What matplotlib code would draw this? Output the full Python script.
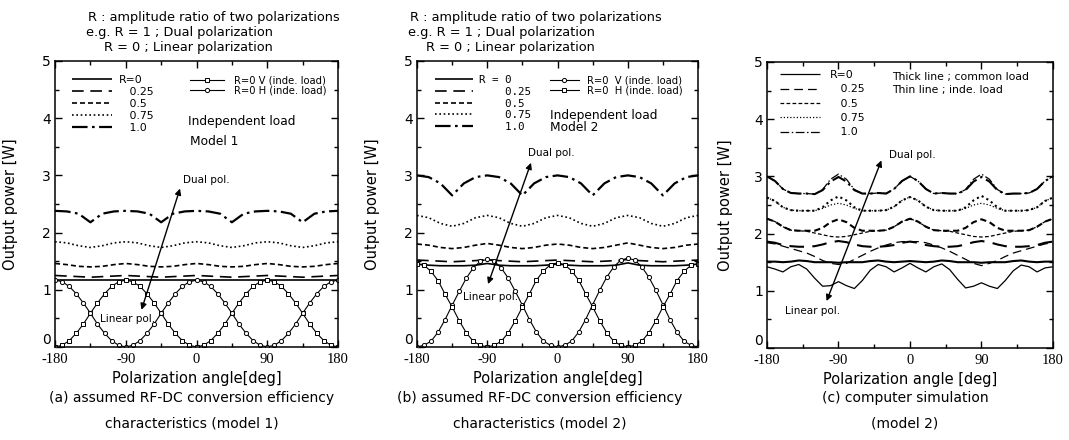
import matplotlib
matplotlib.use("Agg")
import matplotlib.pyplot as plt
import numpy as np
from matplotlib.ticker import MultipleLocator

plt.rcParams['font.family'] = ['DejaVu Sans']
plt.rcParams['axes.unicode_minus'] = False

# polarization angle grids [deg]
ANG_15 = list(range(-180, 181, 15))
ANG_9 = list(range(-180, 181, 9))
ANG_10 = list(range(-180, 181, 10))

R_LABELS = ["R=0", "   0.25", "   0.5", "   0.75", "   1.0"]
R_LABELS_B = ["R = 0", "    0.25", "    0.5", "    0.75", "    1.0"]

# (a) model 1, independent load
A_R0 = [1.17, 1.17, 1.17, 1.17, 1.17, 1.17, 1.17, 1.17, 1.17, 1.17, 1.17, 1.17, 1.17,
        1.17, 1.17, 1.17, 1.17, 1.17, 1.17, 1.17, 1.17, 1.17, 1.17, 1.17, 1.17]
A_R025 = [1.25, 1.24, 1.23, 1.22, 1.23, 1.24, 1.25, 1.24, 1.23, 1.22, 1.23, 1.24, 1.25,
          1.24, 1.23, 1.22, 1.23, 1.24, 1.25, 1.24, 1.23, 1.22, 1.23, 1.24, 1.25]
A_R05 = [1.46, 1.44, 1.41, 1.40, 1.41, 1.44, 1.46, 1.44, 1.41, 1.40, 1.41, 1.44, 1.46,
         1.44, 1.41, 1.40, 1.41, 1.44, 1.46, 1.44, 1.41, 1.40, 1.41, 1.44, 1.46]
A_R075 = [1.84, 1.82, 1.77, 1.74, 1.77, 1.82, 1.84, 1.82, 1.77, 1.74, 1.77, 1.82, 1.84,
          1.82, 1.77, 1.74, 1.77, 1.82, 1.84, 1.82, 1.77, 1.74, 1.77, 1.82, 1.84]
A_R1 = [2.38, 2.37, 2.33, 2.18, 2.33, 2.37, 2.38, 2.37, 2.33, 2.18, 2.33, 2.37, 2.38,
        2.37, 2.33, 2.18, 2.33, 2.37, 2.38, 2.37, 2.33, 2.18, 2.33, 2.37, 2.38]
A_V = [0.00, 0.03, 0.11, 0.24, 0.40, 0.59, 0.77, 0.93, 1.06, 1.14, 1.17,
       1.14, 1.06, 0.93, 0.77, 0.59, 0.40, 0.24, 0.11, 0.03, 0.00,
       0.03, 0.11, 0.24, 0.40, 0.59, 0.77, 0.93, 1.06, 1.14, 1.17,
       1.14, 1.06, 0.93, 0.77, 0.59, 0.40, 0.24, 0.11, 0.03, 0.00]
A_H = [1.17, 1.14, 1.06, 0.93, 0.77, 0.59, 0.40, 0.24, 0.11, 0.03, 0.00,
       0.03, 0.11, 0.24, 0.40, 0.59, 0.77, 0.93, 1.06, 1.14, 1.17,
       1.14, 1.06, 0.93, 0.77, 0.59, 0.40, 0.24, 0.11, 0.03, 0.00,
       0.03, 0.11, 0.24, 0.40, 0.59, 0.77, 0.93, 1.06, 1.14, 1.17]

# (b) model 2, independent load
B_R0 = [1.45, 1.43, 1.42, 1.42, 1.42, 1.43, 1.46, 1.43, 1.42, 1.42, 1.42, 1.43, 1.45,
        1.43, 1.42, 1.42, 1.42, 1.43, 1.47, 1.43, 1.42, 1.42, 1.42, 1.43, 1.45]
B_R025 = [1.52, 1.51, 1.50, 1.49, 1.50, 1.51, 1.53, 1.51, 1.50, 1.49, 1.50, 1.51, 1.52,
          1.51, 1.50, 1.49, 1.50, 1.51, 1.53, 1.51, 1.50, 1.49, 1.50, 1.51, 1.52]
B_R05 = [1.80, 1.78, 1.74, 1.72, 1.74, 1.78, 1.81, 1.78, 1.74, 1.72, 1.74, 1.78, 1.80,
         1.78, 1.74, 1.72, 1.74, 1.78, 1.82, 1.78, 1.74, 1.72, 1.74, 1.78, 1.80]
B_R075 = [2.30, 2.26, 2.16, 2.11, 2.16, 2.26, 2.30, 2.26, 2.16, 2.11, 2.16, 2.26, 2.30,
          2.26, 2.16, 2.11, 2.16, 2.26, 2.30, 2.26, 2.16, 2.11, 2.16, 2.26, 2.30]
B_R1 = [3.00, 2.97, 2.86, 2.65, 2.86, 2.97, 3.00, 2.97, 2.86, 2.65, 2.86, 2.97, 3.00,
        2.97, 2.86, 2.65, 2.86, 2.97, 3.00, 2.97, 2.86, 2.65, 2.86, 2.97, 3.00]
B_V = [0.00, 0.03, 0.10, 0.26, 0.48, 0.73, 0.97, 1.20, 1.38, 1.50, 1.53,
       1.50, 1.38, 1.20, 0.97, 0.73, 0.48, 0.26, 0.10, 0.03, 0.00,
       0.03, 0.10, 0.26, 0.48, 0.74, 0.99, 1.22, 1.40, 1.52, 1.55,
       1.52, 1.40, 1.22, 0.99, 0.74, 0.48, 0.26, 0.10, 0.03, 0.00]
B_H = [1.45, 1.43, 1.32, 1.16, 0.92, 0.70, 0.46, 0.25, 0.10, 0.03, 0.00,
       0.03, 0.10, 0.25, 0.46, 0.70, 0.93, 1.17, 1.33, 1.44, 1.47,
       1.44, 1.33, 1.17, 0.93, 0.70, 0.46, 0.25, 0.10, 0.03, 0.00,
       0.03, 0.10, 0.25, 0.46, 0.70, 0.92, 1.16, 1.32, 1.43, 1.45]

# (c) computer simulation, thick = common load, thin = inde. load
C_R0_THICK = [1.51, 1.51, 1.50, 1.51, 1.53, 1.52, 1.50, 1.50, 1.50, 1.49, 1.50, 1.50, 1.50,
              1.52, 1.53, 1.51, 1.50, 1.51, 1.52, 1.51, 1.50, 1.51, 1.53, 1.52, 1.50, 1.50,
              1.50, 1.49, 1.50, 1.50, 1.50, 1.52, 1.53, 1.51, 1.50, 1.51, 1.51]
C_R0_THIN = [1.42, 1.38, 1.33, 1.42, 1.46, 1.38, 1.22, 1.08, 1.09, 1.16, 1.09, 1.04, 1.18,
             1.36, 1.46, 1.42, 1.33, 1.40, 1.48, 1.40, 1.33, 1.42, 1.47, 1.37, 1.20, 1.05,
             1.08, 1.14, 1.08, 1.04, 1.18, 1.35, 1.45, 1.42, 1.33, 1.40, 1.42]
C_R025_THICK = [1.86, 1.84, 1.80, 1.78, 1.77, 1.77, 1.78, 1.81, 1.85, 1.87, 1.85, 1.81, 1.78,
                1.77, 1.77, 1.78, 1.80, 1.84, 1.86, 1.84, 1.80, 1.78, 1.77, 1.77, 1.78, 1.81,
                1.85, 1.87, 1.85, 1.81, 1.78, 1.77, 1.77, 1.78, 1.80, 1.84, 1.86]
C_R025_THIN = [1.84, 1.82, 1.78, 1.74, 1.70, 1.66, 1.60, 1.53, 1.48, 1.46, 1.48, 1.55, 1.62,
               1.69, 1.75, 1.80, 1.84, 1.86, 1.86, 1.86, 1.84, 1.80, 1.75, 1.69, 1.62, 1.55,
               1.48, 1.44, 1.48, 1.53, 1.60, 1.66, 1.70, 1.74, 1.78, 1.82, 1.84]
C_R05_THICK = [2.26, 2.21, 2.12, 2.06, 2.05, 2.05, 2.05, 2.10, 2.20, 2.25, 2.20, 2.10, 2.05,
               2.05, 2.05, 2.06, 2.12, 2.21, 2.26, 2.21, 2.12, 2.06, 2.05, 2.05, 2.05, 2.10,
               2.20, 2.25, 2.20, 2.10, 2.05, 2.05, 2.05, 2.06, 2.12, 2.21, 2.26]
C_R05_THIN = [2.26, 2.21, 2.12, 2.06, 2.05, 2.04, 2.01, 1.98, 1.95, 1.94, 1.95, 1.98, 2.01,
              2.04, 2.05, 2.06, 2.12, 2.21, 2.26, 2.21, 2.12, 2.06, 2.05, 2.04, 2.01, 1.98,
              1.95, 1.94, 1.95, 1.98, 2.01, 2.04, 2.05, 2.06, 2.12, 2.21, 2.26]
C_R075_THICK = [2.63, 2.57, 2.46, 2.41, 2.40, 2.40, 2.40, 2.46, 2.58, 2.65, 2.58, 2.46, 2.40,
                2.40, 2.40, 2.41, 2.47, 2.58, 2.64, 2.58, 2.47, 2.41, 2.40, 2.40, 2.40, 2.46,
                2.58, 2.66, 2.58, 2.46, 2.40, 2.40, 2.40, 2.41, 2.46, 2.57, 2.63]
C_R075_THIN = [2.63, 2.57, 2.46, 2.41, 2.40, 2.40, 2.40, 2.44, 2.50, 2.53, 2.50, 2.44, 2.40,
               2.40, 2.40, 2.41, 2.47, 2.58, 2.64, 2.58, 2.47, 2.41, 2.40, 2.40, 2.40, 2.44,
               2.50, 2.53, 2.50, 2.44, 2.40, 2.40, 2.40, 2.41, 2.46, 2.57, 2.63]
C_R1_THICK = [3.00, 2.92, 2.78, 2.71, 2.70, 2.70, 2.69, 2.76, 2.91, 2.99, 2.91, 2.76, 2.70,
              2.70, 2.71, 2.70, 2.78, 2.92, 3.00, 2.92, 2.78, 2.70, 2.71, 2.70, 2.70, 2.76,
              2.91, 2.99, 2.91, 2.76, 2.69, 2.70, 2.70, 2.71, 2.78, 2.92, 3.00]
C_R1_THIN = [3.00, 2.92, 2.78, 2.71, 2.70, 2.70, 2.69, 2.77, 2.95, 3.04, 2.95, 2.77, 2.70,
             2.70, 2.71, 2.70, 2.78, 2.92, 3.00, 2.92, 2.78, 2.70, 2.71, 2.70, 2.70, 2.77,
             2.95, 3.04, 2.95, 2.77, 2.69, 2.70, 2.70, 2.71, 2.78, 2.92, 3.00]

# line styles for R = 0, 0.25, 0.5, 0.75, 1.0
STYLES = [(0, ()), (0, (7, 4)), (0, (3, 1.8)), (0, (1, 1.6)), (0, (7, 2, 1.2, 2))]


def style_axes(ax, ylabel_x):
    ax.set_xlim(-180, 180)
    ax.set_ylim(0, 5)
    ax.xaxis.set_major_locator(MultipleLocator(90))
    ax.xaxis.set_minor_locator(MultipleLocator(45))
    ax.yaxis.set_major_locator(MultipleLocator(1))
    ax.yaxis.set_minor_locator(MultipleLocator(0.5))
    ax.tick_params(which='both', direction='in', top=True, right=True, width=1)
    ax.tick_params(which='major', length=5)
    ax.tick_params(axis='x', which='major', pad=4)
    ax.tick_params(axis='y', which='major', pad=3)
    ax.tick_params(which='minor', length=3)
    for lab in ax.get_xticklabels():
        lab.set_family('Liberation Serif')
        lab.set_fontsize(10.5)
    for lab in ax.get_yticklabels():
        lab.set_fontsize(10)
    for sp in ax.spines.values():
        sp.set_linewidth(1.1)
    ax.set_ylabel("Output power [W]", fontsize=10.5)
    ax.yaxis.set_label_coords(ylabel_x, 0.5)


def lift_zero_label(ax):
    # the "0" on the y axis sits just above the axis line, clear of "-180"
    ax.figure.canvas.draw()
    for lab in ax.get_yticklabels():
        if lab.get_text() == '0':
            lab.set_va('bottom')


def pol_arrow(ax, lin_xy, dual_xy, dual_txt, lin_txt):
    ax.annotate('', xy=dual_xy, xytext=lin_xy,
                arrowprops=dict(arrowstyle='<|-|>', color='k', lw=1.0,
                                mutation_scale=9, shrinkA=0, shrinkB=0))
    ax.text(dual_txt[0], dual_txt[1], "Dual pol.", fontsize=7.5, va='center')
    ax.text(lin_txt[0], lin_txt[1], "Linear pol.", fontsize=7.5, va='center')


fig = plt.figure(figsize=(10.69, 4.40), dpi=100)
ax_a = fig.add_axes([0.0515, 0.2114, 0.2647, 0.65])
ax_b = fig.add_axes([0.3901, 0.2114, 0.2629, 0.65])
ax_c = fig.add_axes([0.7175, 0.2091, 0.2675, 0.65])

# ---- (a) ----
lines_a = []
for vals, ls in zip([A_R0, A_R025, A_R05, A_R075, A_R1], STYLES):
    lw = 1.6 if ls == STYLES[4] else 1.2
    ln, = ax_a.plot(ANG_15, vals, color='k', lw=lw, linestyle=ls)
    lines_a.append(ln)
mv, = ax_a.plot(ANG_9, A_V, color='k', lw=0.8, marker='s', ms=3, mfc='white', mew=0.7)
mh, = ax_a.plot(ANG_9, A_H, color='k', lw=0.8, marker='o', ms=3, mfc='white', mew=0.7)
style_axes(ax_a, -0.13)
ax_a.set_xlabel("Polarization angle[deg]", fontsize=10.5)
ax_a.xaxis.set_label_coords(0.5, -0.085)
leg1 = ax_a.legend(lines_a, R_LABELS, loc='upper left', bbox_to_anchor=(0.06, 0.95),
                   frameon=False, fontsize=7.8, handlelength=3.7, handletextpad=0.6,
                   labelspacing=0.18, borderpad=0, borderaxespad=0)
ax_a.add_artist(leg1)
ax_a.legend([mv, mh], ["R=0 V (inde. load)", "R=0 H (inde. load)"], loc='upper left',
            bbox_to_anchor=(0.477, 0.95), frameon=False, fontsize=7.2, handlelength=3.4,
            handletextpad=1.0, labelspacing=0.0, borderpad=0, borderaxespad=0, numpoints=1)
ax_a.text(0.47, 0.787, "Independent load", transform=ax_a.transAxes, fontsize=8.8, va='center')
ax_a.text(0.477, 0.72, "Model 1", transform=ax_a.transAxes, fontsize=8.8, va='center')
pol_arrow(ax_a, (-70, 0.65), (-21, 2.77), (-17, 2.92), (-123, 0.49))

# ---- (b) ----
lines_b = []
for vals, ls in zip([B_R0, B_R025, B_R05, B_R075, B_R1], STYLES):
    lw = 1.6 if ls == STYLES[4] else 1.2
    ln, = ax_b.plot(ANG_15, vals, color='k', lw=lw, linestyle=ls)
    lines_b.append(ln)
bv, = ax_b.plot(ANG_9, B_V, color='k', lw=0.8, marker='o', ms=3, mfc='white', mew=0.7)
bh, = ax_b.plot(ANG_9, B_H, color='k', lw=0.8, marker='s', ms=3, mfc='white', mew=0.7)
style_axes(ax_b, -0.13)
ax_b.set_xlabel("Polarization angle[deg]", fontsize=10.5)
ax_b.xaxis.set_label_coords(0.5, -0.085)
leg1 = ax_b.legend(lines_b, R_LABELS_B, loc='upper left', bbox_to_anchor=(0.064, 0.95),
                   frameon=False, prop={'family': 'DejaVu Sans Mono', 'size': 7.8},
                   handlelength=3.5, handletextpad=0.6, labelspacing=0.15,
                   borderpad=0, borderaxespad=0)
ax_b.add_artist(leg1)
ax_b.legend([bv, bh], ["R=0  V (inde. load)", "R=0  H (inde. load)"], loc='upper left',
            bbox_to_anchor=(0.473, 0.95), frameon=False, fontsize=7.2, handlelength=2.9,
            handletextpad=0.8, labelspacing=0.0, borderpad=0, borderaxespad=0, numpoints=1)
ax_b.text(0.473, 0.808, "Independent load", transform=ax_b.transAxes, fontsize=8.8, va='center')
ax_b.text(0.473, 0.766, "Model 2", transform=ax_b.transAxes, fontsize=8.8, va='center')
pol_arrow(ax_b, (-89, 1.10), (-34, 3.22), (-38, 3.40), (-121, 0.88))

# ---- (c) ----
thick_c = [C_R0_THICK, C_R025_THICK, C_R05_THICK, C_R075_THICK, C_R1_THICK]
thin_c = [C_R0_THIN, C_R025_THIN, C_R05_THIN, C_R075_THIN, C_R1_THIN]
lines_c = []
for vals, ls in zip(thin_c, STYLES):
    ln, = ax_c.plot(ANG_10, vals, color='k', lw=0.9, linestyle=ls)
    lines_c.append(ln)
for vals, ls in zip(thick_c, STYLES):
    ax_c.plot(ANG_10, vals, color='k', lw=1.5, linestyle=ls)
style_axes(ax_c, -0.12)
ax_c.set_xlabel("Polarization angle [deg]", fontsize=10.5)
ax_c.xaxis.set_label_coords(0.5, -0.085)
ax_c.legend(lines_c, R_LABELS, loc='upper left', bbox_to_anchor=(0.045, 0.972),
            frameon=False, fontsize=7.8, handlelength=3.7, handletextpad=0.9,
            labelspacing=0.4, borderpad=0, borderaxespad=0)
ax_c.text(0.437, 0.948, "Thick line ; common load", transform=ax_c.transAxes,
          fontsize=7.8, va='center')
ax_c.text(0.437, 0.902, "Thin line ; inde. load", transform=ax_c.transAxes,
          fontsize=7.8, va='center')
pol_arrow(ax_c, (-105, 0.82), (-36, 3.28), (-26, 3.38), (-157, 0.65))

for ax in [ax_a, ax_b, ax_c]:
    lift_zero_label(ax)

# ---- header notes above (a) and (b) ----
for x0 in [88 / 1069, 410 / 1069]:
    fig.text(x0, 0.961, "R : amplitude ratio of two polarizations", fontsize=9.3, va='center')
    fig.text(x0 - 2 / 1069, 0.927, "e.g. R = 1 ; Dual polarization", fontsize=9.3, va='center')
    fig.text(x0 + 16 / 1069, 0.893, "R = 0 ; Linear polarization", fontsize=9.3, va='center')

# ---- captions ----
fig.text(192 / 1069, 0.0955, "(a) assumed RF-DC conversion efficiency", fontsize=10, ha='center', va='center')
fig.text(192 / 1069, 0.0386, "characteristics (model 1)", fontsize=10, ha='center', va='center')
fig.text(540 / 1069, 0.0955, "(b) assumed RF-DC conversion efficiency", fontsize=10, ha='center', va='center')
fig.text(540 / 1069, 0.0386, "characteristics (model 2)", fontsize=10, ha='center', va='center')
fig.text(905 / 1069, 0.0955, "(c) computer simulation", fontsize=10, ha='center', va='center')
fig.text(905 / 1069, 0.0386, "(model 2)", fontsize=10, ha='center', va='center')

fig.savefig("out.png", dpi=100, facecolor='white')
